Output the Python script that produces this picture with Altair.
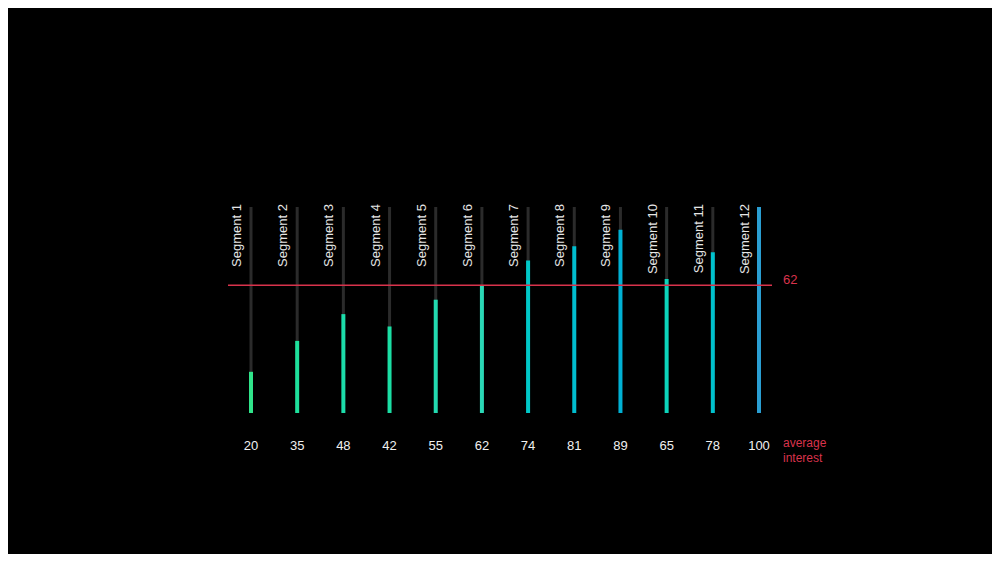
import altair as alt
import pandas as pd

segments = [f"Segment {i}" for i in range(1, 13)]
values = [20, 35, 48, 42, 55, 62, 74, 81, 89, 65, 78, 100]
average = 62
avg_label = "62"
side_label = ["average", "interest"]

df = pd.DataFrame({
    "idx": list(range(1, 13)),
    "segment": segments,
    "value": values,
    "label": [str(v) for v in values],
    "full": [100] * 12,
    "zero": [0] * 12,
})

W, H = 984, 546
xs = alt.Scale(domain=[1, 12], range=[243, 751])
ys = alt.Scale(domain=[0, 100], range=[405, 199])

base = alt.Chart(df)

tracks = base.mark_rule(color="#2b2b2b", strokeWidth=3).encode(
    x=alt.X("idx:Q", scale=xs, axis=None),
    y=alt.Y("zero:Q", scale=ys, axis=None),
    y2="full:Q",
)

bars = base.mark_rule(strokeWidth=4).encode(
    x=alt.X("idx:Q", scale=xs, axis=None),
    y=alt.Y("zero:Q", scale=ys, axis=None),
    y2="value:Q",
    color=alt.Color(
        "value:Q",
        scale=alt.Scale(domain=[20, 62, 100], range=["#30e48a", "#2ad8b6", "#2a9ed2"]),
        legend=None,
    ),
)

seg_text = base.mark_text(
    angle=270, align="right", baseline="middle", dy=-14,
    fontSize=13, font="Liberation Sans", color="#e6e6e6",
).encode(
    x=alt.X("idx:Q", scale=xs, axis=None),
    y=alt.value(196),
    text="segment:N",
)

val_text = base.mark_text(
    align="center", baseline="middle",
    fontSize=13, font="Liberation Sans", color="#f0f0f0",
).encode(
    x=alt.X("idx:Q", scale=xs, axis=None),
    y=alt.value(438),
    text="label:N",
)

avg_df = pd.DataFrame({"avg": [average], "txt": [avg_label]})
avg_rule = alt.Chart(avg_df).mark_rule(color="#d9334c", strokeWidth=1.5).encode(
    x=alt.value(220), x2=alt.value(764),
    y=alt.Y("avg:Q", scale=ys, axis=None),
)
avg_text = alt.Chart(avg_df).mark_text(
    align="left", baseline="middle", dy=-5,
    fontSize=13, font="Liberation Sans", color="#d9334c",
).encode(
    x=alt.value(775),
    y=alt.Y("avg:Q", scale=ys, axis=None),
    text="txt:N",
)

side_df = pd.DataFrame({"t": [side_label]})
side_text = alt.Chart(side_df).mark_text(
    align="left", baseline="middle", lineHeight=15,
    fontSize=12, font="Liberation Sans", color="#d9334c",
).encode(
    x=alt.value(775),
    y=alt.value(435),
    text="t",
)

chart = alt.layer(tracks, bars, avg_rule, seg_text, val_text, avg_text, side_text).properties(
    width=W, height=H, background="#000000", padding=0,
    autosize=alt.AutoSizeParams(type="none"),
).configure_view(stroke=None)

chart.save("out.html", embed_options={"renderer": "svg", "actions": False})
